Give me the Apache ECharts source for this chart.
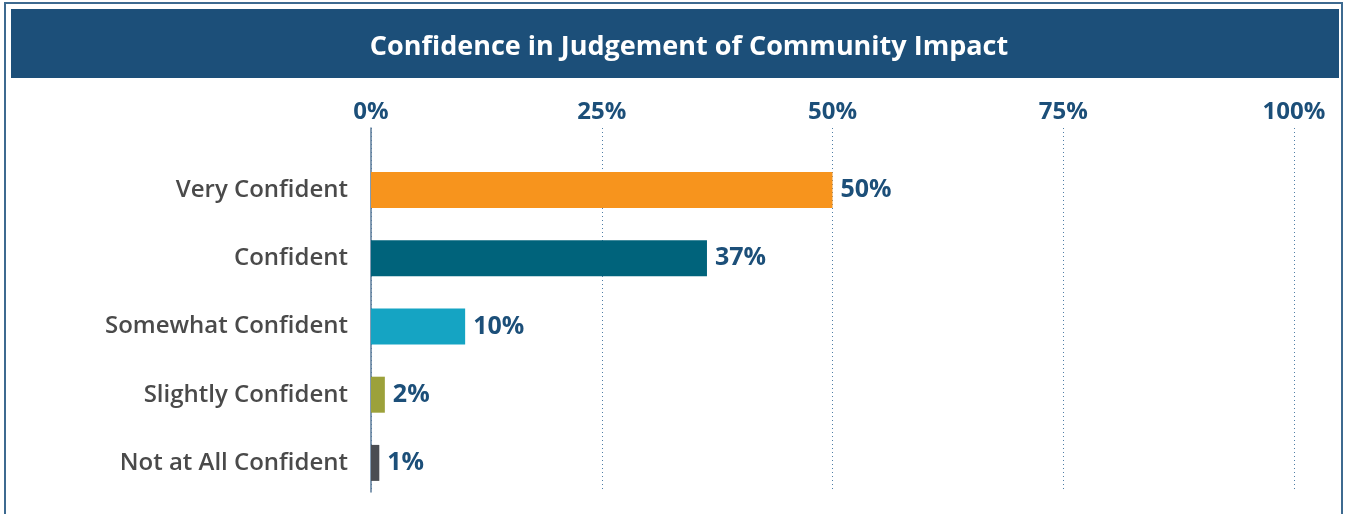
<!DOCTYPE html>
<html>
<head>
<meta charset="utf-8">
<style>
html,body{margin:0;padding:0;background:#fff;}
#chart{width:1346px;height:514px;}
</style>
<script src="https://cdn.jsdelivr.net/npm/echarts@6/dist/echarts.min.js"></script>
</head>
<body>
<div id="chart"></div>
<script>
const chartTitle = 'Confidence in Judgement of Community Impact';
const categories = ['Very Confident', 'Confident', 'Somewhat Confident', 'Slightly Confident', 'Not at All Confident'];
const values = [50, 36.4, 10.2, 1.5, 0.9];
const valueLabels = ['50%', '37%', '10%', '2%', '1%'];
const barColors = ['#f7941d', '#00637b', '#15a4c3', '#9ca13a', '#4a4d52'];
const tickValues = [0, 25, 50, 75, 100];

const navy = '#1c4f79';
const font = 'Open Sans';

const chart = echarts.init(document.getElementById('chart'));
chart.setOption({
  animation: false,
  backgroundColor: '#ffffff',
  graphic: [
    { type: 'rect', shape: { x: 5, y: 3, width: 1337, height: 540 }, style: { fill: 'none', stroke: '#3d6a90', lineWidth: 2 }, z: 0 },
    { type: 'rect', shape: { x: 11, y: 9, width: 1328, height: 69 }, style: { fill: navy }, z: 0 }
  ],
  title: {
    text: chartTitle,
    left: 684, top: 42, textAlign: 'center', textVerticalAlign: 'middle',
    textStyle: { color: '#ffffff', fontFamily: font, fontWeight: 'bold', fontSize: 27 },
    z: 10
  },
  grid: [
    { left: 371, right: 52, top: 128, bottom: 22 },
    { left: 371, right: 52, top: 156, bottom: 17 }
  ],
  xAxis: [
    {
      gridIndex: 0, type: 'value', position: 'top', min: tickValues[0], max: tickValues[tickValues.length - 1], interval: 25,
      axisLine: { show: false }, axisTick: { show: false },
      axisLabel: { formatter: '{value}%', color: navy, fontFamily: font, fontWeight: 'bold', fontSize: 24, margin: 4 },
      splitLine: { show: true, lineStyle: { color: '#4f7ea6', type: [1, 3], width: 1 } }
    },
    { gridIndex: 1, type: 'value', min: 0, max: 100, show: false }
  ],
  yAxis: [
    {
      gridIndex: 0, type: 'value', min: 0, max: 1,
      axisLine: { show: true, lineStyle: { color: '#5a7a99', width: 1.5 } },
      axisTick: { show: false }, axisLabel: { show: false }, splitLine: { show: false }
    },
    {
      gridIndex: 1, type: 'category', inverse: true, data: categories,
      axisLine: { show: false }, axisTick: { show: false },
      axisLabel: { color: '#4a4a4a', fontFamily: font, fontWeight: 600, fontSize: 24, margin: 23 }
    }
  ],
  series: [{
    type: 'bar', xAxisIndex: 1, yAxisIndex: 1, barWidth: 36,
    data: values.map((v, i) => ({ value: v, itemStyle: { color: barColors[i] } })),
    label: { show: true, position: 'right', distance: 8, formatter: (p) => valueLabels[p.dataIndex], color: navy, fontFamily: font, fontWeight: 'bold', fontSize: 25 }
  }]
});
</script>
</body>
</html>
